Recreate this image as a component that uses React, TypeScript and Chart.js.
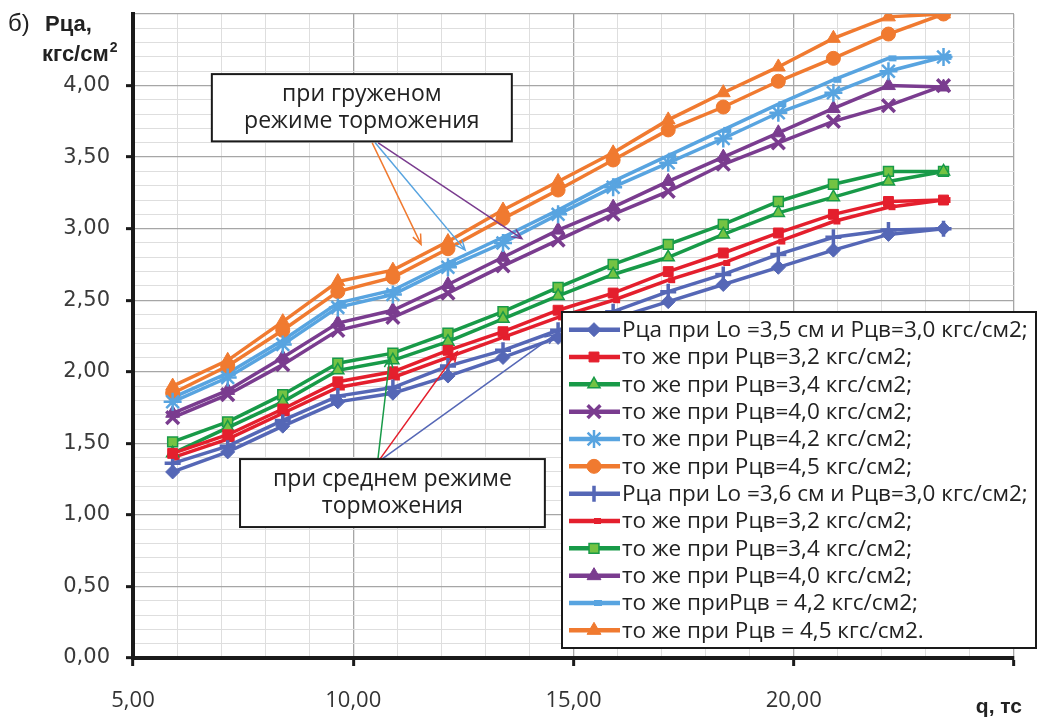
import React, { useEffect, useRef } from 'react';
import { Chart, registerables } from 'chart.js';
import { drawPoint } from 'chart.js/helpers';

Chart.register(...registerables);

// ---- data ----
const qValues = [5.9, 7.15, 8.4, 9.65, 10.9, 12.15, 13.4, 14.65, 15.9, 17.15, 18.4, 19.65, 20.9, 22.15, 23.4];

const blueDiamond = [1.30, 1.44, 1.62, 1.79, 1.85, 1.97, 2.10, 2.24, 2.37, 2.49, 2.61, 2.73, 2.85, 2.96, 3.00];
const redSquare = [1.43, 1.56, 1.74, 1.93, 2.00, 2.15, 2.28, 2.43, 2.55, 2.70, 2.83, 2.97, 3.10, 3.19, 3.20];
const greenTriangle = [1.43, 1.61, 1.79, 2.01, 2.08, 2.21, 2.37, 2.53, 2.68, 2.80, 2.96, 3.11, 3.22, 3.33, 3.40];
const purpleX = [1.68, 1.84, 2.05, 2.29, 2.38, 2.55, 2.74, 2.92, 3.10, 3.26, 3.45, 3.60, 3.75, 3.86, 4.00];
const lightBlueStar = [1.79, 1.96, 2.19, 2.45, 2.54, 2.73, 2.90, 3.10, 3.29, 3.46, 3.63, 3.81, 3.95, 4.10, 4.20];
const orangeCircle = [1.85, 2.04, 2.29, 2.56, 2.66, 2.86, 3.07, 3.27, 3.48, 3.69, 3.85, 4.03, 4.19, 4.36, 4.50];
const bluePlus = [1.36, 1.48, 1.66, 1.83, 1.89, 2.04, 2.15, 2.29, 2.42, 2.56, 2.68, 2.82, 2.94, 2.99, 3.00];
const redDash = [1.40, 1.53, 1.71, 1.89, 1.96, 2.10, 2.24, 2.38, 2.50, 2.64, 2.76, 2.91, 3.05, 3.15, 3.20];
const greenSquare = [1.51, 1.65, 1.84, 2.06, 2.13, 2.27, 2.42, 2.59, 2.75, 2.89, 3.03, 3.19, 3.31, 3.40, 3.40];
const purpleTriangle = [1.71, 1.87, 2.10, 2.34, 2.43, 2.61, 2.80, 2.99, 3.15, 3.33, 3.50, 3.67, 3.84, 4.00, 3.99];
const lightBlueDash = [1.82, 1.99, 2.22, 2.48, 2.57, 2.76, 2.94, 3.13, 3.33, 3.51, 3.69, 3.87, 4.04, 4.19, 4.20];
const orangeTriangle = [1.90, 2.08, 2.35, 2.63, 2.71, 2.91, 3.13, 3.33, 3.53, 3.76, 3.95, 4.13, 4.33, 4.48, 4.50];

const seriesLabels = [
  'Рца при Lo =3,5 см и Рцв=3,0 кгс/см2;',
  'то же при Рцв=3,2 кгс/см2;',
  'то же при Рцв=3,4 кгс/см2;',
  'то же при Рцв=4,0 кгс/см2;',
  'то же при Рцв=4,2 кгс/см2;',
  'то же при Рцв=4,5 кгс/см2;',
  'Рца при Lo =3,6 см и Рцв=3,0 кгс/см2;',
  'то же при Рцв=3,2 кгс/см2;',
  'то же при Рцв=3,4 кгс/см2;',
  'то же при Рцв=4,0 кгс/см2;',
  'то же приРцв = 4,2 кгс/см2;',
  'то же при Рцв = 4,5 кгс/см2.',
];

const seriesValues = [
  blueDiamond, redSquare, greenTriangle, purpleX, lightBlueStar, orangeCircle,
  bluePlus, redDash, greenSquare, purpleTriangle, lightBlueDash, orangeTriangle,
];

const xTickLabels = ['5,00', '10,00', '15,00', '20,00'];
const yTickLabels = ['0,00', '0,50', '1,00', '1,50', '2,00', '2,50', '3,00', '3,50', '4,00'];

const loadedNote = ['при груженом', 'режиме торможения'];
const mediumNote = ['при среднем режиме', 'торможения'];

// ---- styles ----
const BLUE = '#5567b6';
const RED = '#e41f2d';
const GREEN = '#189a48';
const LGREEN = '#74c343';
const PURPLE = '#7a3c8f';
const LBLUE = '#58a4e0';
const ORANGE = '#f07a30';

const seriesStyles = [
  { color: BLUE, fill: BLUE, style: 'rectRot', r: 7, bw: 1 },
  { color: RED, fill: RED, style: 'rect', r: 7, bw: 1 },
  { color: GREEN, fill: LGREEN, style: 'triangle', r: 7, bw: 1.5 },
  { color: PURPLE, fill: PURPLE, style: 'crossRot', r: 9, bw: 3.5 },
  { color: LBLUE, fill: LBLUE, style: 'star', r: 9, bw: 2.5 },
  { color: ORANGE, fill: ORANGE, style: 'circle', r: 7, bw: 1 },
  { color: BLUE, fill: BLUE, style: 'cross', r: 8, bw: 3.5 },
  { color: RED, fill: RED, style: 'dash', r: 7, bw: 6 },
  { color: GREEN, fill: LGREEN, style: 'rect', r: 7, bw: 1.5 },
  { color: PURPLE, fill: PURPLE, style: 'triangle', r: 8, bw: 1 },
  { color: LBLUE, fill: LBLUE, style: 'dash', r: 8, bw: 6 },
  { color: ORANGE, fill: ORANGE, style: 'triangle', r: 8, bw: 1 },
];

const isMult = (v: number, step: number) => Math.abs(v / step - Math.round(v / step)) < 1e-6;

function arrow(ctx: CanvasRenderingContext2D, x1: number, y1: number, x2: number, y2: number, color: string) {
  ctx.save();
  ctx.strokeStyle = color;
  ctx.lineWidth = 1.5;
  ctx.beginPath();
  ctx.moveTo(x1, y1);
  ctx.lineTo(x2, y2);
  const a = Math.atan2(y2 - y1, x2 - x1);
  const L = 11;
  ctx.moveTo(x2 - L * Math.cos(a - 0.4), y2 - L * Math.sin(a - 0.4));
  ctx.lineTo(x2, y2);
  ctx.lineTo(x2 - L * Math.cos(a + 0.4), y2 - L * Math.sin(a + 0.4));
  ctx.stroke();
  ctx.restore();
}

function noteBox(ctx: CanvasRenderingContext2D, l: number, t: number, r: number, b: number, lines: string[]) {
  ctx.save();
  ctx.fillStyle = '#ffffff';
  ctx.fillRect(l, t, r - l, b - t);
  ctx.strokeStyle = '#1a1a1a';
  ctx.lineWidth = 2;
  ctx.strokeRect(l, t, r - l, b - t);
  ctx.fillStyle = '#222';
  ctx.font = '23px "Open Sans"';
  ctx.textAlign = 'center';
  ctx.textBaseline = 'middle';
  const cx = (l + r) / 2;
  const h = b - t;
  ctx.fillText(lines[0], cx, t + h * 0.3);
  ctx.fillText(lines[1], cx, t + h * 0.7);
  ctx.restore();
}

const annotationsPlugin = {
  id: 'notes',
  afterDatasetsDraw(chart: any) {
    const { ctx } = chart;
    const xs = chart.scales.x;
    const ys = chart.scales.y;
    const px = (v: number) => xs.getPixelForValue(v);
    const py = (v: number) => ys.getPixelForValue(v);

    const s1x = px(10.43), s1y = py(3.6);
    arrow(ctx, s1x, s1y, px(11.54), py(2.89), ORANGE);
    arrow(ctx, s1x + 3, s1y, px(12.54), py(2.85), LBLUE);
    arrow(ctx, s1x + 6, s1y, px(13.83), py(2.93), PURPLE);
    noteBox(ctx, px(6.79), py(4.08), px(13.6), py(3.61), loadedNote);

    const s2x = px(10.56), s2y = py(1.39);
    arrow(ctx, s2x, s2y, px(10.83), py(2.1), GREEN);
    arrow(ctx, s2x + 2, s2y, px(12.36), py(2.14), RED);
    arrow(ctx, s2x + 4, s2y, px(14.58), py(2.26), BLUE);
    noteBox(ctx, px(7.43), py(1.39), px(14.35), py(0.915), mediumNote);
  },
};

const legendPlugin = {
  id: 'boxLegend',
  afterDraw(chart: any) {
    const { ctx } = chart;
    const left = 562, top = 312, right = 1036, bottom = 648;
    ctx.save();
    ctx.fillStyle = '#ffffff';
    ctx.fillRect(left, top, right - left, bottom - top);
    ctx.strokeStyle = '#1a1a1a';
    ctx.lineWidth = 2;
    ctx.strokeRect(left, top, right - left, bottom - top);
    const n = chart.data.datasets.length;
    const rowH = (bottom - top - 8) / n;
    chart.data.datasets.forEach((ds: any, i: number) => {
      const cy = top + 4 + rowH * (i + 0.5);
      ctx.strokeStyle = ds.borderColor;
      ctx.lineWidth = 4.5;
      ctx.beginPath();
      ctx.moveTo(569, cy);
      ctx.lineTo(620, cy);
      ctx.stroke();
      ctx.fillStyle = ds.pointBackgroundColor;
      ctx.strokeStyle = ds.pointBorderColor;
      ctx.lineWidth = ds.pointBorderWidth;
      drawPoint(ctx, { pointStyle: ds.pointStyle, rotation: 0, radius: ds.pointRadius, borderWidth: ds.pointBorderWidth }, 594, cy);
      ctx.fillStyle = '#222';
      ctx.font = '22.5px "Open Sans"';
      ctx.textAlign = 'left';
      ctx.textBaseline = 'middle';
      ctx.fillText(ds.label, 622, cy + 1);
    });
    ctx.restore();
  },
};

const titlesPlugin = {
  id: 'titles',
  afterDraw(chart: any) {
    const { ctx } = chart;
    ctx.save();
    ctx.fillStyle = '#222';
    ctx.textBaseline = 'middle';
    ctx.textAlign = 'left';
    ctx.font = '24px "Liberation Sans"';
    ctx.fillText('б)', 8, 24);
    ctx.font = 'bold 22px "Liberation Sans"';
    ctx.fillText('Рца,', 45, 25);
    ctx.fillText('кгс/см', 42, 55);
    const w = ctx.measureText('кгс/см').width;
    ctx.font = 'bold 14px "Liberation Sans"';
    ctx.fillText('2', 42 + w + 1, 48);
    ctx.font = 'bold 21px "Liberation Sans"';
    ctx.textAlign = 'right';
    ctx.fillText('q, тс', 1022, 707);
    ctx.restore();
  },
};

const bgPlugin = {
  id: 'bg',
  beforeDraw(chart: any) {
    const { ctx } = chart;
    ctx.save();
    ctx.fillStyle = '#ffffff';
    ctx.fillRect(0, 0, chart.width, chart.height);
    ctx.restore();
  },
};

export default function App() {
  const ref = useRef<HTMLCanvasElement | null>(null);

  useEffect(() => {
    if (!ref.current) return;
    const datasets = seriesValues.map((vals, i) => {
      const st = seriesStyles[i];
      return {
        label: seriesLabels[i],
        data: vals.map((v, j) => ({ x: qValues[j], y: v })),
        borderColor: st.color,
        backgroundColor: st.fill,
        borderWidth: 3.5,
        pointStyle: st.style,
        pointRadius: st.r,
        pointBorderWidth: st.bw,
        pointBackgroundColor: st.fill,
        pointBorderColor: st.color,
        tension: 0,
        fill: false,
      };
    });

    const chart = new Chart(ref.current, {
      type: 'line',
      data: { datasets },
      options: {
        animation: false,
        responsive: true,
        maintainAspectRatio: false,
        events: [],
        layout: { padding: { left: 0, top: 14, right: 28, bottom: 0 } },
        plugins: { legend: { display: false }, tooltip: { enabled: false } },
        scales: {
          x: {
            type: 'linear',
            min: 5,
            max: 25,
            afterFit: (s: any) => { s.height = 61; },
            ticks: {
              stepSize: 1,
              autoSkip: false,
              maxRotation: 0,
              maxTicksLimit: 100,
              padding: 22,
              color: '#333',
              font: { family: '"Open Sans"', size: 22 },
              callback: (v: any) => {
                const n = Number(v);
                if (!isMult(n, 5)) return '';
                const idx = Math.round((n - 5) / 5);
                return xTickLabels[idx] ?? '';
              },
            },
            grid: {
              color: (c: any) => (c.tick && isMult(c.tick.value, 5) ? '#a6a6a6' : '#dedede'),
              lineWidth: (c: any) => (c.tick && isMult(c.tick.value, 5) ? 1.3 : 1),
              tickColor: (c: any) => (c.tick && isMult(c.tick.value, 5) ? '#1a1a1a' : 'rgba(0,0,0,0)'),
              tickLength: 8,
              tickWidth: 3,
            },
            border: { display: true, color: '#1a1a1a', width: 4 },
          },
          y: {
            type: 'linear',
            min: 0,
            max: 4.5,
            afterFit: (s: any) => { s.width = 133; s.paddingTop = 0; s.paddingBottom = 0; },
            ticks: {
              stepSize: 0.1,
              autoSkip: false,
              maxTicksLimit: 100,
              padding: 16,
              color: '#3a3a3a',
              font: { family: '"DejaVu Sans"', size: 21 },
              callback: (v: any) => {
                const n = Number(v);
                if (!isMult(n, 0.5)) return '';
                const idx = Math.round(n / 0.5);
                return yTickLabels[idx] ?? '';
              },
            },
            grid: {
              color: (c: any) => (c.tick && isMult(c.tick.value, 0.5) ? '#a6a6a6' : '#dedede'),
              lineWidth: (c: any) => (c.tick && isMult(c.tick.value, 0.5) ? 1.3 : 1),
              tickColor: (c: any) => (c.tick && isMult(c.tick.value, 0.5) && c.tick.value < 4.45 ? '#1a1a1a' : 'rgba(0,0,0,0)'),
              tickLength: 7,
              tickWidth: 3,
            },
            border: { display: true, color: '#1a1a1a', width: 4 },
          },
        },
      },
      plugins: [bgPlugin, annotationsPlugin, legendPlugin, titlesPlugin],
    } as any);

    return () => chart.destroy();
  }, []);

  return (
    <div style={{ position: 'fixed', left: 0, top: 0, width: 1042, height: 719, background: '#fff' }}>
      <canvas ref={ref} />
    </div>
  );
}
